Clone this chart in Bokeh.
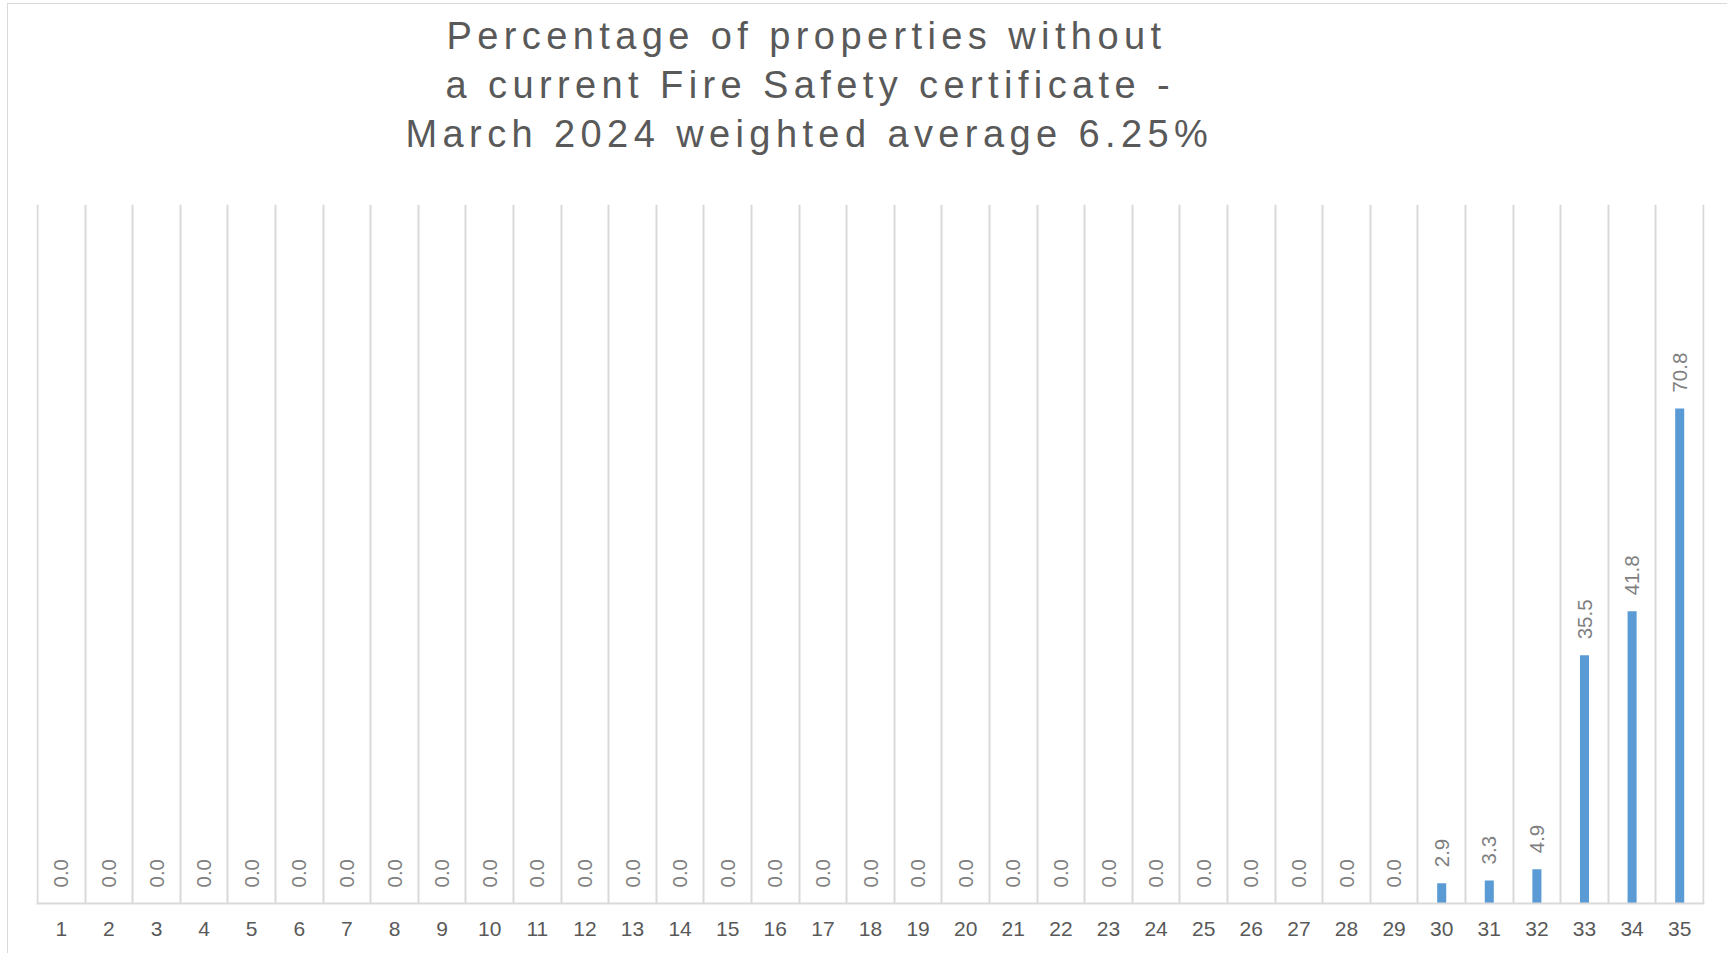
import math
from bokeh.plotting import figure
from bokeh.models import Range1d, FixedTicker, ColumnDataSource, InlineStyleSheet, Title
from bokeh.core.properties import value
from bokeh.layouts import column
from bokeh.embed import file_html
from bokeh.resources import INLINE

# ---- data ----
categories = [1, 2, 3, 4, 5, 6, 7, 8, 9, 10, 11, 12, 13, 14, 15, 16, 17, 18,
              19, 20, 21, 22, 23, 24, 25, 26, 27, 28, 29, 30, 31, 32, 33, 34, 35]
values = [0.0, 0.0, 0.0, 0.0, 0.0, 0.0, 0.0, 0.0, 0.0, 0.0, 0.0, 0.0, 0.0, 0.0,
          0.0, 0.0, 0.0, 0.0, 0.0, 0.0, 0.0, 0.0, 0.0, 0.0, 0.0, 0.0, 0.0, 0.0,
          0.0, 2.9, 3.3, 4.9, 35.5, 41.8, 70.8]
title_lines = ["Percentage of properties without",
               "a current Fire Safety certificate -",
               "March 2024 weighted average 6.25%"]
title_offsets = [410, 409, 369]

GRID = "#d9d9d9"
TEXT = "#595959"
FONT = "Liberation Sans"
W = 1727
TOP = 10
TH = 160 - TOP
PAD = 1.0 / 47.6  # one pixel of padding so the edge separators are not clipped

# ---- title figure ----
tf = figure(width=W, height=TH, x_range=Range1d(0, 1), y_range=Range1d(0, 1),
            output_backend="svg", toolbar_location=None,
            x_axis_location=None, y_axis_location=None,
            min_border_left=36, min_border_right=23,
            min_border_top=0, min_border_bottom=0, margin=(TOP, 0, 0, 0))
tf.grid.visible = False
tf.outline_line_color = None
tf.title.visible = False
for line, off in reversed(list(zip(title_lines, title_offsets))):
    tf.add_layout(Title(text=line, align="left", offset=off,
                        text_font=FONT, text_font_size="38px",
                        text_font_style="normal", text_color=TEXT,
                        standoff=5), "above")
tf.stylesheets = [InlineStyleSheet(css=":host { letter-spacing: 5.4px; }")]

# ---- main figure ----
src = ColumnDataSource(dict(x=categories, v=values,
                            lbl=["%.1f" % v for v in values]))

p = figure(width=W, height=953 - TH - TOP,
           x_range=Range1d(0.5 - PAD, 35.5 + PAD), y_range=Range1d(0, 100),
           output_backend="svg", toolbar_location=None, y_axis_location=None,
           min_border_left=36, min_border_right=23,
           min_border_top=204 - TH - TOP, min_border_bottom=50)
p.outline_line_color = None
p.ygrid.visible = False
p.xgrid.ticker = FixedTicker(ticks=[c - 0.5 for c in categories] + [categories[-1] + 0.5])
p.xgrid.grid_line_color = GRID
p.xgrid.grid_line_width = 2
p.xaxis.ticker = FixedTicker(ticks=categories)
p.xaxis.major_tick_line_color = None
p.xaxis.minor_tick_line_color = None
p.xaxis.axis_line_color = GRID
p.xaxis.axis_line_width = 2
p.xaxis.major_label_text_font = FONT
p.xaxis.major_label_text_font_size = "21px"
p.xaxis.major_label_text_color = TEXT
p.xaxis.major_label_standoff = 12

p.vbar(x="x", top="v", width=0.19, source=src, fill_color="#5b9bd5", line_color=None)
p.text(x="x", y="v", text="lbl", source=src, angle=math.pi / 2,
       text_align="left", text_baseline="middle", y_offset=-16,
       text_font_size="20.5px", text_color="#7f7f7f", text_font=value(FONT))

border_css = (":host::before { content: ''; position: absolute; left: 7px; top: 3px; "
              "width: 1720px; height: 950px; box-sizing: border-box; "
              "border-left: 1.5px solid #d9d9d9; border-top: 1.5px solid #d9d9d9; "
              "pointer-events: none; z-index: 10; }")
layout = column(tf, p, spacing=0, stylesheets=[InlineStyleSheet(css=border_css)])
open("out.html", "w").write(file_html(layout, INLINE))
